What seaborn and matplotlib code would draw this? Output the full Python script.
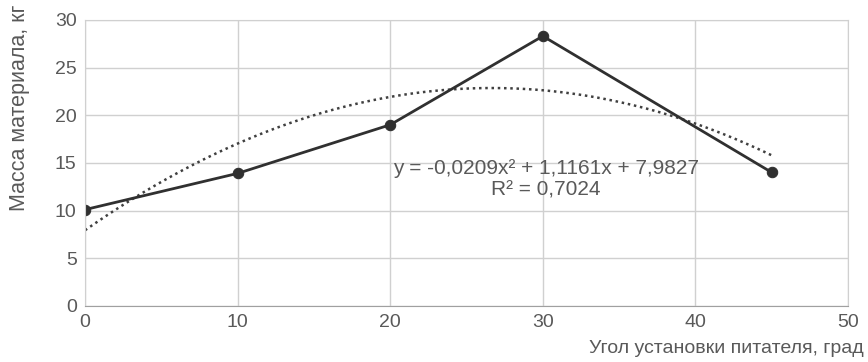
import numpy as np
import pandas as pd
import seaborn as sns
import matplotlib
matplotlib.use("Agg")
import matplotlib.pyplot as plt

# values
angle = [0, 10, 20, 30, 45]
mass = [10.1, 13.9, 19.0, 28.3, 14.0]
eq_text = "y = -0,0209x² + 1,1161x + 7,9827\nR² = 0,7024"
x_ticks = [0, 10, 20, 30, 40, 50]
y_ticks = [0, 5, 10, 15, 20, 25, 30]

df = pd.DataFrame({"angle": angle, "mass": mass})

sns.set_style("white")
plt.rcParams["font.family"] = ["Liberation Sans", "DejaVu Sans"]
text_col = "#595959"

fig = plt.figure(figsize=(8.68, 3.62), dpi=100)
ax = fig.add_axes([0.098, 0.155, 0.879, 0.79])

# polynomial trendline (order 2), dotted
sns.regplot(data=df, x="angle", y="mass", order=2, ci=None, scatter=False,
            ax=ax, line_kws={"color": "#404040", "lw": 1.8, "ls": (0, (1, 1.5))})

sns.lineplot(data=df, x="angle", y="mass", ax=ax, color="#303030", lw=2,
             marker="o", markersize=7.5, markeredgecolor="#303030")

ax.set_xlim(0, 50)
ax.set_ylim(0, 30)
ax.set_xticks(x_ticks)
ax.set_yticks(y_ticks)
ax.grid(True, color="#d0d0d0", lw=1)
for s in ax.spines.values():
    s.set_color("#d0d0d0")
ax.spines["bottom"].set_color("#a0a0a0")
ax.tick_params(axis="both", length=0, labelsize=14, colors=text_col, pad=6)

ax.set_xlabel("")
ax.set_ylabel("")
fig.text(0.995, 0.015, "Угол установки питателя, град", ha="right", va="bottom",
         fontsize=14, color=text_col)
fig.text(0.022, 0.988, "Масса материала, кг", ha="center", va="top",
         rotation=90, fontsize=15.5, color=text_col)

ax.text(30.2, 13.3, eq_text, ha="center", va="center", fontsize=15,
        color=text_col, linespacing=1.2)

fig.savefig("out.png", dpi=100)
